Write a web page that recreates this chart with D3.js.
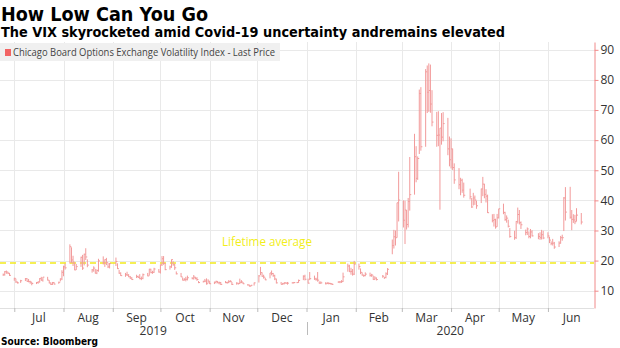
<!DOCTYPE html>
<meta charset="utf-8">

<!-- Load d3.js -->
<script src="https://d3js.org/d3.v7.min.js"></script>

<style>
  body { margin: 0; background: #fff; }
  text { font-family: "Open Sans", sans-serif; }
  .title { font-family: "DejaVu Sans", sans-serif; font-weight: bold; fill: #000; }
</style>

<body>
<div id="chart"></div>

<script>
  // trading days shown, one line per month
  var dates = [
    "2019-06-21","2019-06-24","2019-06-25","2019-06-26","2019-06-27","2019-06-28",
    "2019-07-01","2019-07-02","2019-07-03","2019-07-05","2019-07-08","2019-07-09","2019-07-10","2019-07-11","2019-07-12","2019-07-15","2019-07-16","2019-07-17","2019-07-18","2019-07-19","2019-07-22","2019-07-23","2019-07-24","2019-07-25","2019-07-26","2019-07-29","2019-07-30","2019-07-31",
    "2019-08-01","2019-08-02","2019-08-05","2019-08-06","2019-08-07","2019-08-08","2019-08-09","2019-08-12","2019-08-13","2019-08-14","2019-08-15","2019-08-16","2019-08-19","2019-08-20","2019-08-21","2019-08-22","2019-08-23","2019-08-26","2019-08-27","2019-08-28","2019-08-29","2019-08-30",
    "2019-09-03","2019-09-04","2019-09-05","2019-09-06","2019-09-09","2019-09-10","2019-09-11","2019-09-12","2019-09-13","2019-09-16","2019-09-17","2019-09-18","2019-09-19","2019-09-20","2019-09-23","2019-09-24","2019-09-25","2019-09-26","2019-09-27","2019-09-30",
    "2019-10-01","2019-10-02","2019-10-03","2019-10-04","2019-10-07","2019-10-08","2019-10-09","2019-10-10","2019-10-11","2019-10-14","2019-10-15","2019-10-16","2019-10-17","2019-10-18","2019-10-21","2019-10-22","2019-10-23","2019-10-24","2019-10-25","2019-10-28","2019-10-29","2019-10-30","2019-10-31",
    "2019-11-01","2019-11-04","2019-11-05","2019-11-06","2019-11-07","2019-11-08","2019-11-11","2019-11-12","2019-11-13","2019-11-14","2019-11-15","2019-11-18","2019-11-19","2019-11-20","2019-11-21","2019-11-22","2019-11-25","2019-11-26","2019-11-27","2019-11-29",
    "2019-12-02","2019-12-03","2019-12-04","2019-12-05","2019-12-06","2019-12-09","2019-12-10","2019-12-11","2019-12-12","2019-12-13","2019-12-16","2019-12-17","2019-12-18","2019-12-19","2019-12-20","2019-12-23","2019-12-24","2019-12-26","2019-12-27","2019-12-30","2019-12-31",
    "2020-01-02","2020-01-03","2020-01-06","2020-01-07","2020-01-08","2020-01-09","2020-01-10","2020-01-13","2020-01-14","2020-01-15","2020-01-16","2020-01-17","2020-01-21","2020-01-22","2020-01-23","2020-01-24","2020-01-27","2020-01-28","2020-01-29","2020-01-30","2020-01-31",
    "2020-02-03","2020-02-04","2020-02-05","2020-02-06","2020-02-07","2020-02-10","2020-02-11","2020-02-12","2020-02-13","2020-02-14","2020-02-18","2020-02-19","2020-02-20","2020-02-21","2020-02-24","2020-02-25","2020-02-26","2020-02-27","2020-02-28",
    "2020-03-02","2020-03-03","2020-03-04","2020-03-05","2020-03-06","2020-03-09","2020-03-10","2020-03-11","2020-03-12","2020-03-13","2020-03-16","2020-03-17","2020-03-18","2020-03-19","2020-03-20","2020-03-23","2020-03-24","2020-03-25","2020-03-26","2020-03-27","2020-03-30","2020-03-31",
    "2020-04-01","2020-04-02","2020-04-03","2020-04-06","2020-04-07","2020-04-08","2020-04-09","2020-04-13","2020-04-14","2020-04-15","2020-04-16","2020-04-17","2020-04-20","2020-04-21","2020-04-22","2020-04-23","2020-04-24","2020-04-27","2020-04-28","2020-04-29","2020-04-30",
    "2020-05-01","2020-05-04","2020-05-05","2020-05-06","2020-05-07","2020-05-08","2020-05-11","2020-05-12","2020-05-13","2020-05-14","2020-05-15","2020-05-18","2020-05-19","2020-05-20","2020-05-21","2020-05-22","2020-05-26","2020-05-27","2020-05-28","2020-05-29",
    "2020-06-01","2020-06-02","2020-06-03","2020-06-04","2020-06-05","2020-06-08","2020-06-09","2020-06-10","2020-06-11","2020-06-12","2020-06-15","2020-06-16","2020-06-17","2020-06-18","2020-06-19","2020-06-22"
  ];

  var highs = [
    15.9, 15.7, 16.5, 16.7, 16.3, 15.9,
    14.3, 14.0, 13.0, 13.6, 14.2, 14.2, 13.9, 13.3, 12.9, 12.9, 13.1, 14.2, 14.6, 14.5, 14.6, 13.5, 12.7, 12.9, 12.9, 13.0, 14.1, 16.8,
    18.3, 19.0, 25.4, 24.4, 21.6, 19.4, 18.9, 21.3, 21.9, 22.3, 24.1, 20.4, 17.2, 18.1, 17.2, 17.1, 20.6, 21.4, 20.4, 20.9, 19.3, 19.2,
    21.0, 19.1, 16.9, 16.1, 15.9, 16.3, 15.5, 14.9, 14.5, 15.3, 15.0, 15.5, 14.7, 15.7, 15.9, 17.3, 17.3, 16.6, 17.6, 17.2,
    18.7, 21.5, 21.5, 19.2, 18.3, 20.4, 19.8, 19.0, 16.4, 15.9, 14.4, 14.2, 14.6, 15.0, 14.5, 15.2, 14.6, 14.5, 13.2, 13.3, 13.9, 14.1, 13.8,
    13.2, 13.0, 13.3, 13.2, 13.0, 12.9, 13.2, 13.0, 13.5, 13.5, 12.9, 12.8, 12.6, 14.0, 13.5, 12.9, 12.2, 12.0, 11.9, 12.7,
    15.2, 17.9, 16.1, 15.3, 14.3, 15.9, 16.7, 15.9, 15.3, 14.0, 12.9, 12.6, 12.8, 12.8, 12.9, 12.8, 12.9, 12.9, 13.7, 15.1, 15.3,
    14.0, 16.2, 15.0, 14.3, 16.2, 13.1, 13.1, 12.8, 12.9, 12.8, 12.6, 12.5, 13.1, 13.2, 13.5, 16.0, 19.0, 18.6, 17.6, 17.2, 19.9,
    19.0, 17.4, 16.1, 15.3, 16.1, 16.0, 15.6, 15.0, 14.8, 14.4, 15.2, 14.5, 16.1, 17.5, 27.0, 30.2, 30.0, 39.2, 49.5,
    40.0, 39.9, 36.8, 40.8, 54.4, 62.1, 58.0, 54.6, 76.8, 77.6, 83.6, 84.8, 85.5, 85.1, 76.6, 69.4, 69.6, 64.0, 69.0, 69.3, 67.4, 61.2,
    60.6, 57.2, 52.3, 50.7, 47.5, 47.2, 45.9, 43.9, 40.8, 42.5, 41.6, 39.9, 43.9, 47.8, 45.5, 43.7, 41.9, 35.4, 35.5, 33.9, 35.5,
    37.2, 38.9, 36.2, 35.0, 33.6, 30.8, 29.9, 33.1, 37.6, 36.8, 33.0, 30.3, 31.0, 29.7, 30.5, 30.1, 29.1, 29.4, 30.2, 29.9,
    29.4, 27.9, 26.4, 27.2, 26.2, 26.4, 28.2, 28.6, 41.1, 44.4, 44.5, 36.8, 35.4, 35.2, 37.4, 35.8
  ];

  var lows = [
    14.4, 14.9, 15.0, 15.6, 15.5, 14.9,
    13.3, 12.6, 12.4, 12.6, 13.2, 13.0, 12.8, 12.3, 11.8, 12.2, 12.3, 12.7, 13.3, 13.0, 13.4, 12.4, 11.9, 11.9, 12.1, 12.3, 13.1, 13.5,
    14.8, 17.0, 19.0, 19.2, 18.2, 16.8, 16.9, 17.9, 16.9, 18.4, 20.2, 17.8, 16.0, 16.3, 15.7, 15.5, 16.3, 18.7, 17.9, 18.5, 17.5, 17.4,
    18.2, 17.2, 15.6, 14.9, 14.6, 14.9, 14.5, 13.9, 13.6, 14.2, 14.2, 13.8, 13.5, 13.8, 14.8, 15.0, 15.8, 15.6, 15.9, 16.0,
    15.7, 18.2, 18.6, 16.8, 17.0, 17.6, 18.3, 16.9, 15.4, 14.5, 13.4, 13.3, 13.1, 13.4, 13.8, 13.7, 13.8, 13.3, 12.5, 12.7, 12.8, 12.0, 12.4,
    12.2, 12.2, 12.4, 12.5, 12.1, 11.9, 12.5, 12.3, 12.5, 12.8, 11.9, 12.0, 12.0, 12.2, 12.5, 12.2, 11.7, 11.4, 11.4, 11.7,
    12.7, 15.2, 14.6, 14.0, 13.5, 14.1, 15.1, 14.6, 13.5, 12.4, 12.1, 12.0, 12.1, 12.3, 12.0, 12.4, 12.4, 12.5, 12.6, 13.5, 13.4,
    12.4, 13.5, 13.6, 13.3, 13.0, 12.3, 12.3, 12.1, 12.2, 12.1, 12.1, 11.9, 12.6, 12.5, 12.6, 12.9, 16.3, 16.2, 15.3, 15.0, 15.2,
    17.0, 15.5, 15.0, 14.6, 14.8, 14.7, 14.6, 13.6, 13.6, 13.4, 14.3, 13.9, 14.1, 15.2, 22.1, 24.0, 25.0, 27.6, 33.0,
    31.0, 25.5, 30.3, 31.0, 36.6, 41.9, 46.0, 46.8, 55.4, 56.5, 57.8, 69.0, 69.4, 69.1, 64.6, 57.8, 58.0, 36.9, 58.5, 59.6, 55.0, 51.3,
    50.6, 50.1, 45.5, 43.7, 41.7, 42.5, 40.9, 40.3, 37.5, 38.3, 38.5, 37.2, 39.1, 41.4, 40.7, 39.3, 35.8, 32.7, 31.3, 30.6, 31.2,
    34.0, 35.4, 33.2, 32.6, 31.0, 27.6, 26.9, 27.2, 32.3, 32.0, 30.5, 28.4, 28.5, 27.4, 27.4, 28.0, 27.1, 26.9, 27.0, 27.1,
    27.4, 25.8, 25.1, 25.0, 23.9, 24.5, 25.6, 26.6, 29.8, 33.3, 33.9, 30.1, 32.5, 32.1, 33.0, 32.0
  ];

  var closes = [
    15.4, 15.3, 16.3, 16.2, 15.8, 15.1,
    14.1, 12.9, 12.6, 13.3, 14.0, 13.1, 13.0, 12.9, 12.4, 12.7, 12.9, 14.0, 13.5, 14.5, 13.5, 12.6, 12.1, 12.7, 12.2, 12.8, 13.9, 16.1,
    17.9, 17.6, 24.6, 20.2, 19.5, 16.9, 18.0, 21.1, 17.5, 22.1, 21.2, 18.5, 16.9, 17.5, 15.8, 16.7, 19.9, 19.3, 20.3, 19.4, 17.9, 19.0,
    19.7, 17.3, 15.8, 15.0, 15.3, 15.2, 14.6, 14.2, 13.7, 14.7, 14.4, 14.0, 14.1, 15.3, 14.9, 17.1, 16.0, 16.1, 17.2, 16.2,
    18.6, 20.6, 19.1, 17.0, 17.9, 20.3, 18.6, 17.6, 15.6, 14.6, 13.5, 13.7, 13.8, 14.3, 14.0, 14.5, 14.0, 13.7, 12.7, 13.1, 13.2, 12.3, 13.2,
    12.3, 12.8, 13.1, 12.6, 12.7, 12.1, 12.7, 12.7, 13.0, 13.1, 12.1, 12.5, 12.4, 12.8, 12.9, 12.3, 11.9, 11.5, 11.8, 12.6,
    14.9, 16.0, 14.8, 14.5, 13.6, 15.9, 15.7, 15.0, 13.9, 12.6, 12.1, 12.3, 12.6, 12.5, 12.5, 12.6, 12.7, 12.7, 13.4, 14.8, 13.8,
    12.5, 14.0, 13.9, 13.8, 13.5, 12.5, 12.6, 12.3, 12.4, 12.4, 12.3, 12.1, 12.9, 12.9, 13.0, 14.6, 18.2, 16.3, 16.4, 15.5, 18.8,
    18.0, 16.1, 15.2, 15.0, 15.5, 15.0, 15.2, 13.7, 14.2, 13.7, 14.8, 14.4, 15.6, 17.1, 25.0, 27.9, 27.6, 39.2, 40.1,
    33.4, 36.8, 32.0, 39.6, 41.9, 54.5, 47.3, 53.9, 75.5, 57.8, 82.7, 75.9, 76.5, 72.0, 66.0, 61.6, 61.7, 64.0, 61.0, 65.5, 57.1, 53.5,
    57.1, 50.9, 46.8, 45.2, 46.7, 43.4, 41.7, 41.2, 37.8, 40.8, 40.1, 38.2, 43.8, 45.4, 42.0, 41.4, 35.9, 33.3, 33.6, 31.2, 34.2,
    37.2, 36.0, 33.6, 34.1, 31.4, 28.0, 27.6, 33.0, 35.3, 32.6, 31.9, 29.3, 30.5, 28.0, 29.5, 28.2, 28.0, 27.6, 28.6, 27.5,
    28.2, 26.8, 25.7, 25.8, 24.5, 25.8, 27.6, 27.6, 40.8, 36.1, 34.4, 33.7, 33.5, 32.9, 35.1, 32.8
  ];

  var yTicks = [10, 20, 30, 40, 50, 60, 70, 80, 90];
  var monthLabels = ["Jul", "Aug", "Sep", "Oct", "Nov", "Dec", "Jan", "Feb", "Mar", "Apr", "May", "Jun"];
  var yearLabels = ["2019", "2020"];
  var lifetimeAverage = 19.2;

  // set the dimensions of the graph
  var width = 620,
      height = 348,
      plotRight = 594,
      plotTop = 42,
      plotBottom = 308;

  var svg = d3.select("#chart")
    .append("svg")
    .attr("width", width)
    .attr("height", height);

  var parse = d3.timeParse("%Y-%m-%d");

  var x = d3.scaleTime()
    .domain([parse("2019-06-22"), parse("2020-06-30")])
    .range([0, plotRight]);

  var y = d3.scaleLinear()
    .domain([4.25, 92.6])
    .range([plotBottom, plotTop]);

  var monthStarts = d3.timeMonth.range(parse("2019-07-01"), parse("2020-07-01"));

  // grid lines
  svg.append("g")
    .selectAll("line.h")
    .data(yTicks)
    .enter().append("line")
    .attr("x1", 0).attr("x2", plotRight)
    .attr("y1", function(d) { return Math.round(y(d)) + 0.5; })
    .attr("y2", function(d) { return Math.round(y(d)) + 0.5; })
    .attr("stroke", "#e9e9e9");

  svg.append("g")
    .selectAll("line.v")
    .data(monthStarts)
    .enter().append("line")
    .attr("x1", function(d) { return Math.round(x(d)) + 0.5; })
    .attr("x2", function(d) { return Math.round(x(d)) + 0.5; })
    .attr("y1", plotTop).attr("y2", plotBottom)
    .attr("stroke", "#e9e9e9");

  // legend box
  svg.append("rect")
    .attr("x", 0).attr("y", 43).attr("width", 280).attr("height", 18)
    .attr("fill", "#f0f0f0");
  svg.append("rect")
    .attr("x", 5).attr("y", 49).attr("width", 6).attr("height", 7)
    .attr("fill", "#f26464");
  svg.append("text")
    .attr("x", 13).attr("y", 56)
    .attr("textLength", 262).attr("lengthAdjust", "spacingAndGlyphs")
    .style("font-size", "11px").style("fill", "#444")
    .text("Chicago Board Options Exchange Volatility Index - Last Price");

  // lifetime average
  svg.append("line")
    .attr("x1", 0).attr("x2", plotRight)
    .attr("y1", y(lifetimeAverage)).attr("y2", y(lifetimeAverage))
    .attr("stroke", "#f2ea1c")
    .attr("stroke-width", 1.5)
    .attr("stroke-dasharray", "6,4");

  svg.append("text")
    .attr("x", 222).attr("y", 246)
    .attr("textLength", 90).attr("lengthAdjust", "spacingAndGlyphs")
    .style("font-size", "12px").style("fill", "#f2ee1a")
    .text("Lifetime average");

  // high-low bars with close ticks
  var bars = dates.map(function(d, i) {
    return { date: parse(d), high: highs[i], low: lows[i], close: closes[i] };
  });

  var barColor = "#f29a9a";

  svg.append("g")
    .selectAll("line")
    .data(bars)
    .enter().append("line")
    .attr("x1", function(d) { return x(d.date); })
    .attr("x2", function(d) { return x(d.date); })
    .attr("y1", function(d) { return y(d.high); })
    .attr("y2", function(d) { return y(d.low); })
    .attr("stroke", barColor)
    .attr("stroke-width", 1);

  svg.append("g")
    .selectAll("line")
    .data(bars)
    .enter().append("line")
    .attr("x1", function(d) { return x(d.date); })
    .attr("x2", function(d) { return x(d.date) + 1.5; })
    .attr("y1", function(d) { return y(d.close); })
    .attr("y2", function(d) { return y(d.close); })
    .attr("stroke", barColor)
    .attr("stroke-width", 1);

  // bottom axis: month ticks, month names centred in each month
  svg.append("line")
    .attr("x1", 0).attr("x2", plotRight)
    .attr("y1", plotBottom + 0.5).attr("y2", plotBottom + 0.5)
    .attr("stroke", "#e0e0e0");

  var xAxis = svg.append("g")
    .attr("transform", "translate(0," + plotBottom + ")")
    .call(d3.axisBottom(x).tickValues(monthStarts).tickFormat("").tickSize(4).tickSizeOuter(0));
  xAxis.select(".domain").remove();
  xAxis.selectAll(".tick line").attr("stroke", "#bbb");

  svg.append("g")
    .selectAll("text")
    .data(monthStarts)
    .enter().append("text")
    .attr("x", function(d, i) { return (x(d) + x(d3.timeMonth.offset(d, 1))) / 2; })
    .attr("y", 322)
    .attr("text-anchor", "middle")
    .style("font-size", "12px").style("fill", "#333")
    .text(function(d, i) { return monthLabels[i]; });

  var yearSplit = x(parse("2020-01-01"));
  svg.append("g")
    .selectAll("text")
    .data(yearLabels)
    .enter().append("text")
    .attr("x", function(d, i) { return i == 0 ? yearSplit / 2 : (yearSplit + plotRight) / 2; })
    .attr("y", 335)
    .attr("text-anchor", "middle")
    .style("font-size", "12px").style("fill", "#333")
    .text(function(d) { return d; });

  svg.append("line")
    .attr("x1", Math.round(yearSplit) + 0.5).attr("x2", Math.round(yearSplit) + 0.5)
    .attr("y1", 322).attr("y2", 335)
    .attr("stroke", "#bbb");

  // right axis
  var yAxis = svg.append("g")
    .attr("transform", "translate(" + (plotRight + 0.5) + ",0)")
    .call(d3.axisRight(y).tickValues(yTicks).tickSize(4).tickSizeOuter(0).tickPadding(2));
  yAxis.select(".domain").attr("stroke", "#f08a8a");
  yAxis.selectAll(".tick line").attr("stroke", "#f08a8a");
  yAxis.selectAll(".tick text")
    .style("font-family", "'Open Sans', sans-serif")
    .style("font-size", "12px").style("fill", "#333");

  // titles and source
  svg.append("text").attr("class", "title")
    .attr("x", 1).attr("y", 21)
    .attr("textLength", 207).attr("lengthAdjust", "spacingAndGlyphs")
    .style("font-size", "19px")
    .text("How Low Can You Go");

  svg.append("text").attr("class", "title")
    .attr("x", 1).attr("y", 37)
    .attr("textLength", 504).attr("lengthAdjust", "spacingAndGlyphs")
    .style("font-size", "14px")
    .text("The VIX skyrocketed amid Covid-19 uncertainty andremains elevated");

  svg.append("text").attr("class", "title")
    .attr("x", 1).attr("y", 345)
    .attr("textLength", 97).attr("lengthAdjust", "spacingAndGlyphs")
    .style("font-size", "11px")
    .text("Source: Bloomberg");
</script>
</body>
